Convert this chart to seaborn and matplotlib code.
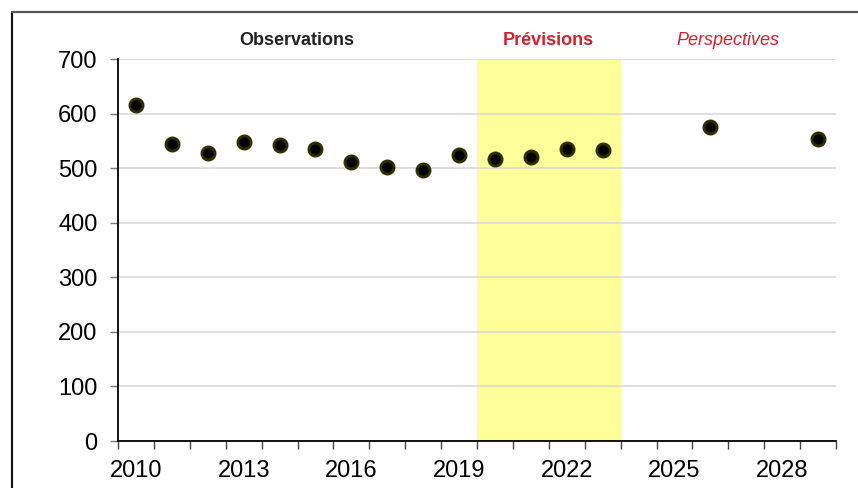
import matplotlib
matplotlib.use("Agg")
import matplotlib.pyplot as plt
from matplotlib.ticker import FixedLocator
import seaborn as sns
import pandas as pd

years = [2010, 2011, 2012, 2013, 2014, 2015, 2016, 2017, 2018, 2019,
         2020, 2021, 2022, 2023, 2026, 2029]
values = [616, 544, 529, 549, 543, 535, 511, 503, 497, 525,
          517, 521, 535, 533, 575, 554]
tick_years = [2010, 2013, 2016, 2019, 2022, 2025, 2028]
y_ticks = [0, 100, 200, 300, 400, 500, 600, 700]
forecast_years = [2020, 2023]
section_labels = ["Observations", "Prévisions", "Perspectives"]
section_pos = [2014.47, 2021.5, 2026.5]

df = pd.DataFrame({"year": years, "value": values})

sns.set_theme(style="white")
plt.rcParams["font.family"] = ["Liberation Sans", "DejaVu Sans"]

fig = plt.figure(figsize=(8.58, 4.88), dpi=100)
ax = fig.add_axes([118 / 858, 47 / 488, (836 - 118) / 858, (441 - 59.3) / 488])

# outer frame
fig.add_artist(plt.Line2D([11.8 / 858, 11.8 / 858], [0, 1 - 11.5 / 488],
                          transform=fig.transFigure, color="#111111", linewidth=1.5))
fig.add_artist(plt.Line2D([11.8 / 858, 1], [1 - 11.5 / 488, 1 - 11.5 / 488],
                          transform=fig.transFigure, color="#555555", linewidth=1.6))

ax.axvspan(forecast_years[0] - 0.5, forecast_years[1] + 0.5, color="#ffff99", zorder=0, lw=0)

sns.scatterplot(data=df, x="year", y="value", ax=ax, s=88, color="black",
                edgecolor="#2e2e00", linewidth=2.1, zorder=3, legend=False)

ax.set_xlim(2009.5, 2029.5)
ax.set_ylim(0, 700)
ax.set_yticks(y_ticks)
ax.set_xticks(tick_years)
ax.set_xticklabels([str(t) for t in tick_years])
ax.xaxis.set_minor_locator(FixedLocator([2009.5 + k for k in range(21)]))
ax.tick_params(axis="x", which="major", length=0, labelsize=17, pad=13.5, colors="black")
ax.tick_params(axis="x", which="minor", length=6, width=1, color="#444444", direction="out", bottom=True)
ax.tick_params(axis="y", which="major", length=5.8, width=1, color="#777777", direction="out",
               labelsize=17, pad=9, left=True, labelcolor="black")

ax.grid(axis="y", color="#d9d9d9", linewidth=1.2, zorder=1)
ax.grid(axis="x", visible=False)
ax.set_axisbelow(True)

for side in ["top", "right"]:
    ax.spines[side].set_visible(False)
for side in ["left", "bottom"]:
    ax.spines[side].set_visible(True)
    ax.spines[side].set_color("black")
    ax.spines[side].set_linewidth(1.3)

ax.set_xlabel("")
ax.set_ylabel("")

narrow = ["Liberation Sans Narrow", "Liberation Sans", "DejaVu Sans"]
ax.text(section_pos[0], 1.05, section_labels[0], transform=ax.get_xaxis_transform(),
        ha="center", va="center", fontsize=13, fontweight="bold", color="#222222", family=narrow)
ax.text(section_pos[1], 1.05, section_labels[1], transform=ax.get_xaxis_transform(),
        ha="center", va="center", fontsize=13, fontweight="bold", color="#d42030", family=narrow)
ax.text(section_pos[2], 1.05, section_labels[2], transform=ax.get_xaxis_transform(),
        ha="center", va="center", fontsize=13, fontstyle="italic", color="#d42030", family=narrow)

fig.savefig("out.png", dpi=100)
